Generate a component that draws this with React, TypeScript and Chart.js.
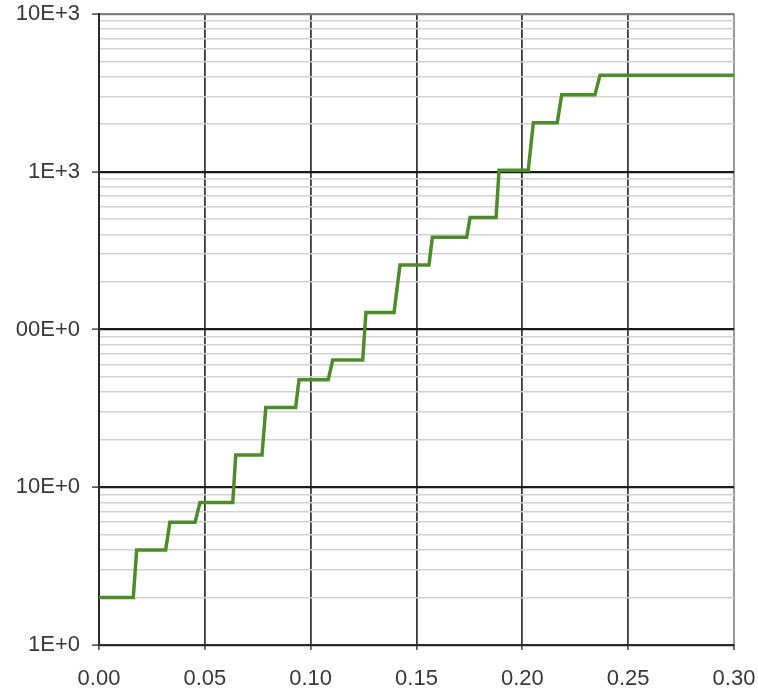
import React, { useEffect, useRef } from "react";
import { Chart, registerables } from "chart.js";

Chart.register(...registerables);

// Step series: each level holds between a start x and an end x
const stepStartX = [0, 0.0178, 0.0335, 0.0477, 0.0646, 0.0788, 0.0945, 0.1104, 0.1261, 0.1422, 0.1575, 0.1753, 0.189, 0.2052, 0.2186, 0.2367];
const stepEndX = [0.0162, 0.0315, 0.0454, 0.0632, 0.077, 0.0929, 0.1083, 0.1246, 0.1394, 0.1559, 0.1737, 0.1876, 0.2028, 0.2165, 0.2343, 0.3];
const stepValues = [2, 4, 6, 8, 16, 32, 48, 64, 128, 256, 384, 512, 1024, 2048, 3072, 4096];

const xTickValues = [0, 0.05, 0.1, 0.15, 0.2, 0.25, 0.3];
const xTickLabels = ["0.00", "0.05", "0.10", "0.15", "0.20", "0.25", "0.30"];

const yMajorValues = [1, 10, 100, 1000, 10000];
const yMajorLabels = ["1E+0", "10E+0", "00E+0", "1E+3", "10E+3"];
const yMinorMultipliers = [2, 3, 4, 5, 6, 7, 8, 9];

const FONT = { family: "'Liberation Sans', Arial, sans-serif", size: 22 };
const TEXT_COLOR = "#383838";

function clearPadding(scale: any) {
  scale.paddingTop = 0;
  scale.paddingBottom = 0;
  scale.paddingLeft = 0;
  scale.paddingRight = 0;
}

export default function App() {
  const ref = useRef<HTMLCanvasElement | null>(null);

  useEffect(() => {
    if (!ref.current) return;
    const points: { x: number; y: number }[] = [];
    stepValues.forEach((v, i) => {
      points.push({ x: stepStartX[i], y: v });
      points.push({ x: stepEndX[i], y: v });
    });

    const yTicks: number[] = [];
    yMajorValues.forEach((d, i) => {
      yTicks.push(d);
      if (i < yMajorValues.length - 1) yMinorMultipliers.forEach((m) => yTicks.push(d * m));
    });
    yTicks.sort((a, b) => a - b);

    const isMajorY = (v: number) => yMajorValues.some((m) => Math.abs(m - v) < 1e-9);

    const chart = new Chart(ref.current, {
      type: "line",
      data: {
        datasets: [
          {
            data: points,
            borderColor: "#4e8b2a",
            borderWidth: 3.5,
            pointRadius: 0,
            fill: false,
            tension: 0,
          },
        ],
      },
      options: {
        animation: false,
        responsive: false,
        devicePixelRatio: 1,
        layout: { padding: { top: 14, right: 24, left: 0, bottom: 0 } },
        plugins: { legend: { display: false }, tooltip: { enabled: false } },
        scales: {
          x: {
            type: "linear",
            min: 0,
            max: 0.3,
            afterBuildTicks: (scale: any) => {
              scale.ticks = xTickValues.map((v) => ({ value: v }));
            },
            afterFit: (scale: any) => {
              scale.height = 48;
              clearPadding(scale);
            },
            ticks: {
              autoSkip: false,
              maxRotation: 0,
              padding: 16,
              font: FONT,
              color: TEXT_COLOR,
              callback: (value: any) => {
                const i = xTickValues.findIndex((v) => Math.abs(v - Number(value)) < 1e-9);
                return i >= 0 ? xTickLabels[i] : "";
              },
            },
            grid: {
              tickLength: 5,
              color: (ctx: any) => {
                const v = ctx.tick ? ctx.tick.value : 0;
                if (Math.abs(v - 0.3) < 1e-9) return "#9a9a9a";
                return "#3a3a3a";
              },
              lineWidth: (ctx: any) => {
                const v = ctx.tick ? ctx.tick.value : 0;
                if (Math.abs(v - 0.3) < 1e-9) return 2;
                return 1.8;
              },
              tickColor: "#444",
              tickWidth: 1.5,
            },
            border: { color: "#2a2a2a", width: 2 },
          },
          y: {
            type: "logarithmic",
            min: 1,
            max: 10000,
            afterBuildTicks: (scale: any) => {
              scale.ticks = yTicks.map((v) => ({ value: v, major: isMajorY(v) }));
            },
            afterFit: (scale: any) => {
              scale.width = 99;
              clearPadding(scale);
            },
            ticks: {
              autoSkip: false,
              padding: 12,
              font: FONT,
              color: TEXT_COLOR,
              callback: (value: any) => {
                const i = yMajorValues.findIndex((v) => Math.abs(v - Number(value)) < 1e-9);
                return i >= 0 ? yMajorLabels[i] : "";
              },
            },
            grid: {
              tickLength: 7,
              color: (ctx: any) => {
                const v = ctx.tick ? ctx.tick.value : 1;
                if (Math.abs(v - 10000) < 1e-9) return "#808080";
                if (isMajorY(v)) return "#1a1a1a";
                return "#d2d2d2";
              },
              lineWidth: (ctx: any) => {
                const v = ctx.tick ? ctx.tick.value : 1;
                if (isMajorY(v)) return 2.2;
                return 1.6;
              },
              tickColor: (ctx: any) => {
                const v = ctx.tick ? ctx.tick.value : 1;
                return isMajorY(v) ? "#444" : "rgba(0,0,0,0)";
              },
              tickWidth: 1.5,
            },
            border: { color: "#2a2a2a", width: 2 },
          },
        },
      },
    } as any);

    return () => chart.destroy();
  }, []);

  return (
    <div style={{ position: "absolute", left: 0, top: 0, width: 758, height: 693, background: "#fff" }}>
      <canvas ref={ref} width={758} height={693} style={{ width: 758, height: 693, display: "block" }} />
    </div>
  );
}
